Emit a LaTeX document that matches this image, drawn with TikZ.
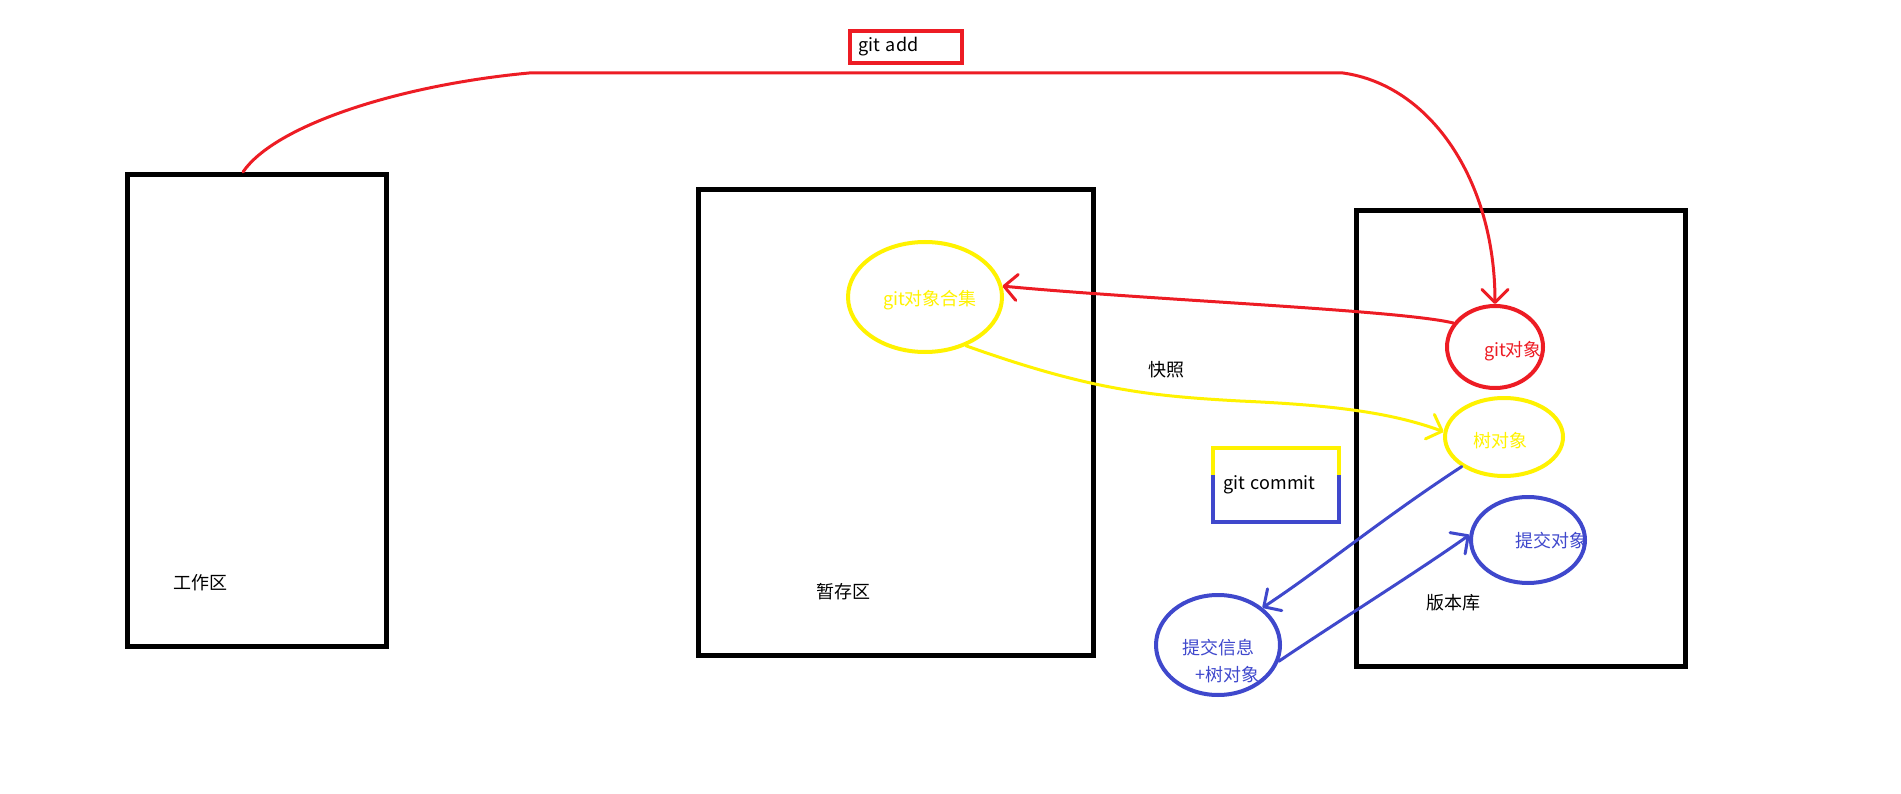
\documentclass[tikz,border=0pt]{standalone}
\usepackage{fontspec}
\setmainfont{Noto Sans CJK SC}
\usepackage{xcolor}
\usepackage{tikz}
\usetikzlibrary{calc,shapes.geometric,arrows.meta}
\definecolor{pred}{HTML}{ED1C24}
\definecolor{pyellow}{HTML}{FFF200}
\definecolor{pblue}{HTML}{3F48CC}
\tikzset{
  areabox/.style={draw=black, line width=5pt, rectangle, inner sep=0pt},
  obj/.style={ellipse, line width=4pt, inner sep=0pt},
  redline/.style={draw=pred, line width=3pt, line cap=round},
  yellowline/.style={draw=pyellow, line width=3pt, line cap=round},
  blueline/.style={draw=pblue, line width=3pt, line cap=round},
  barb/.style={-{Straight Barb[length=13pt,width=26pt,round]}},
  lab/.style={font=\fontsize{18}{22}\selectfont, inner sep=0pt},
}

\begin{document}
\begin{tikzpicture}[x=1pt,y=-1pt]
  \useasboundingbox (0,0) rectangle (1901,794);

  % the three areas
  \node[areabox, minimum width=259pt, minimum height=472pt] (work) at (257,410.5) {};
  \node[areabox, minimum width=395pt, minimum height=466pt] (stage) at (896,422.5) {};
  \node[areabox, minimum width=329pt, minimum height=456pt] (repo) at (1521,438.5) {};
  \node[lab] (worklab) at (200,583) {工作区};
  \node[lab] (stagelab) at (843,592) {暂存区};
  \node[lab] (repolab) at (1453,603) {版本库};

  % objects
  \node[obj, draw=pyellow, minimum width=154pt, minimum height=110pt] (gitset) at (925,297) {};
  \node[obj, draw=pred, minimum width=96pt, minimum height=82pt] (gitobj) at (1495,347) {};
  \node[obj, draw=pyellow, minimum width=118pt, minimum height=78pt] (tree) at (1504,437) {};
  \node[obj, draw=pblue, minimum width=114pt, minimum height=86pt] (cobj) at (1528,540) {};
  \node[obj, draw=pblue, minimum width=124pt, minimum height=100pt] (info) at (1218,645) {};
  \node[lab, text=pyellow] (gitsetlab) at (930,300) {git对象合集};
  \node[lab, text=pred] (gitobjlab) at (1513,351) {git对象};
  \node[lab, text=pyellow] (treelab) at (1500,441) {树对象};
  \node[lab, text=pblue] (cobjlab) at (1551,541) {提交对象};
  \node[lab, text=pblue] (infolab) at (1218,648) {提交信息};
  \node[lab, text=pblue] (infolab2) at (1227,675) {+树对象};

  % commands
  \node[lab, draw=pred, line width=4pt, text width=96pt, inner xsep=8pt,
    minimum height=32pt] (gitadd) at (906,47) {git add};
  \node[lab, text width=106pt, inner xsep=10pt, minimum height=74pt] (commit) at (1276,485) {git commit};
  \draw[yellowline, line width=4pt, line cap=butt] ([yshift=10pt]commit.west) -- (commit.north west)
    -- (commit.north east) -- ([yshift=10pt]commit.east);
  \draw[blueline, line width=4pt, line cap=butt] ([yshift=10pt]commit.west) -- (commit.south west)
    -- (commit.south east) -- ([yshift=10pt]commit.east);
  \node[lab] (snap) at (1166,370) {快照};

  % arrows
  \draw[redline, barb] ([xshift=-14pt]work.north) .. controls (275,125) and (400,85) .. (529,73)
    -- (1343,73) .. controls (1430,85) and (1495,180) .. (gitobj.north);
  \draw[redline, barb] (gitobj.150) .. controls (1400,310) and (1150,300) .. (gitset.8);
  \draw[yellowline, barb] (gitset.-50) .. controls (1090,390) and (1150,396) .. (1240,401)
    .. controls (1330,405) and (1390,412) .. (tree.175);
  \draw[blueline, barb] (tree.-145) .. controls (1380,520) and (1320,570) .. (info.40);
  \draw[blueline, barb] (info.-15) .. controls (1340,620) and (1420,570) .. (cobj.175);
\end{tikzpicture}
\end{document}
